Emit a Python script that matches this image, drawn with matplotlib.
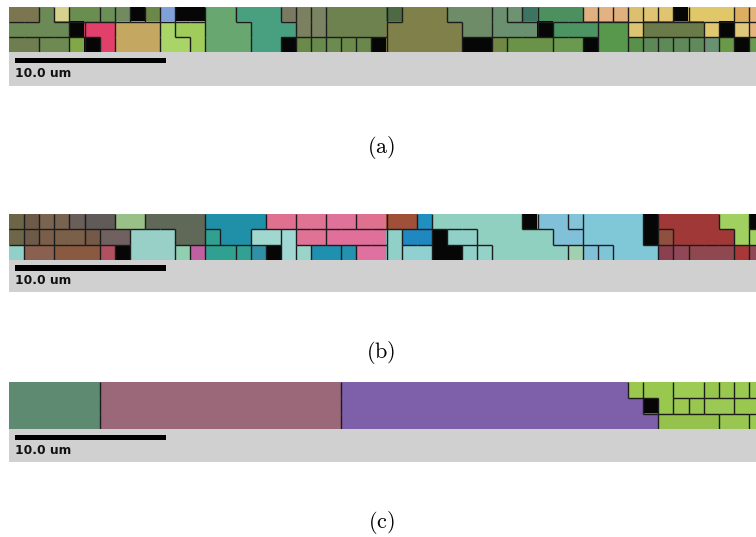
import matplotlib
matplotlib.use('Agg')
import matplotlib.pyplot as plt
import numpy as np
from matplotlib.collections import LineCollection
from matplotlib.colors import to_rgb

plt.rcParams['mathtext.fontset'] = 'cm'

# grain maps: one character per 1 um cell, 3 rows x 50 columns, 'K' = void
grains_a = [
    "aabcddefKghKKiijjjklmnnnnABBBCCCDEFGGGIJLMNOKPPPQR",
    "bbbbKoopppqrriiijjjlmnnnnBBBBBCCDDDKHHHSSTUUUUVKWX",
    "ssttuKopppqqriiijjKvwxyzKBBBBBKK677788KSSYZ01234K5",
]
colors_a = {
    'K': '#060606', 'a': '#7b7650', 'b': '#6b8a55', 'c': '#d6d28e', 'd': '#6a8e50',
    'e': '#6a9058', 'f': '#728a60', 'g': '#6c8848', 'h': '#80a0d8', 'i': '#68a870',
    'j': '#48a080', 'k': '#7a7a62', 'l': '#7a8060', 'm': '#7a8462', 'n': '#6e8250',
    'o': '#e0406a', 'p': '#c4a862', 'q': '#a8d468', 'r': '#a0cc5c', 's': '#6e7e50',
    't': '#6e8a52', 'u': '#80a848', 'v': '#6a8a4a', 'w': '#688a4c', 'x': '#6a8c4e',
    'y': '#6c8a4a', 'z': '#6a884c', 'A': '#4e6a44', 'B': '#80804a', 'C': '#6e8c68',
    'D': '#6a9070', 'E': '#6e9272', 'F': '#3c7460', 'G': '#4c9060', 'H': '#4c9462',
    'I': '#e0b080', 'J': '#e2b282', 'L': '#e0b07e', 'M': '#dcc070', 'N': '#e0c474',
    'O': '#e0c470', 'P': '#e0c868', 'Q': '#dcae60', 'R': '#e4b47a', 'S': '#58984c',
    'T': '#dcc470', 'U': '#6a7a48', 'V': '#e0c870', 'W': '#e0c878', 'X': '#e4b47c',
    'Y': '#58904c', 'Z': '#5e8858', '0': '#5e8a58', '1': '#608858', '2': '#608a5a',
    '3': '#6a9272', '4': '#6a9a48', '5': '#6a9a50', '6': '#708844', '7': '#6a9248',
    '8': '#6a9a50',
}

grains_b = [
    "abcdeffgghhhhiiiijjkkllmmnnoppppppKqqrssssKttttuuK",
    "vwxyyzAABBBhhCiiDDEFFGGGGHIIKJJpppppqqssssK#ttttu$",
    "MNNOOOPKBBBQRSSTUKEVWWXYYHZZKK01ppppp234sss5677789",
]
colors_b = {
    'K': '#060606', 'a': '#6e6448', 'b': '#6e5a48', 'c': '#7a6450', 'd': '#786250',
    'e': '#6a5e58', 'f': '#605a58', 'g': '#98c088', 'h': '#606858', 'i': '#2090a8',
    'j': '#e07090', 'k': '#e07294', 'l': '#e0729a', 'm': '#e07090', 'n': '#a05038',
    'o': '#2090c0', 'p': '#90d0c0', 'q': '#80c0d8', 'r': '#84c4d8', 's': '#80c8d8',
    't': '#a03838', 'u': '#a0d060', 'v': '#6e6648', 'w': '#6e5a48', 'x': '#7a5e4a',
    'y': '#7a6048', 'z': '#745848', 'A': '#706060', 'B': '#98d0c8', 'C': '#30a090',
    'D': '#a0d8d0', 'E': '#a0d8d4', 'F': '#e07296', 'G': '#e0709a', 'H': '#90d0c8',
    'I': '#2088c0', 'J': '#90d0c8', 'M': '#90d0c8', 'N': '#8a6050', 'O': '#8a5a40',
    'P': '#b05060', 'Q': '#90d0b0', 'R': '#c060a0', 'S': '#30a090', 'T': '#32a092',
    'U': '#3090a8', 'V': '#98d4c8', 'W': '#2090b0', 'X': '#2292b0', 'Y': '#e070a0',
    'Z': '#90d0d0', '0': '#90d0c8', '1': '#92d2c8', '2': '#a0d0b0', '3': '#80c0d8',
    '4': '#80c4d8', '5': '#8a4050', '6': '#904858', '7': '#904850', '8': '#a83838',
    '9': '#904858', '#': '#905040', '$': '#a0d060',
}

grains_c = [
    "aaaaaabbbbbbbbbbbbbbbbcccccccccccccccccccdeeffghij",
    "aaaaaabbbbbbbbbbbbbbbbccccccccccccccccccccKeklmmnn",
    "aaaaaabbbbbbbbbbbbbbbbcccccccccccccccccccccooooppq",
]
colors_c = {
    'K': '#060606', 'a': '#5f8a72', 'b': '#9a6878', 'c': '#7e60aa', 'd': '#9cc850',
    'e': '#98c84e', 'f': '#9ccc54', 'g': '#96c64e', 'h': '#98c850', 'i': '#9aca52',
    'j': '#98c850', 'k': '#9cc852', 'l': '#98c64e', 'm': '#9aca54', 'n': '#98c850',
    'o': '#94c24c', 'p': '#98c650', 'q': '#9aca52',
}

labels = ['(a)', '(b)', '(c)']
scale_um = 10.0
visible_um = 49.47

# pixel layout of each panel: tile top, tile bottom / band top, band bottom, caption y
W, H = 756, 537
layout = [(6.7, 52.3, 86.0, 147.5), (214.0, 260.0, 292.3, 352.5), (382.3, 429.3, 461.7, 523.0)]


def draw_grains(ax, rows, colors):
    ids = np.array([list(r) for r in rows])
    img = np.array([[to_rgb(colors[c]) for c in r] for r in rows])
    nr, nc = ids.shape
    ax.imshow(img, extent=(0, nc, nr, 0), interpolation='nearest', aspect='auto')
    segs = []
    for i in range(nr):
        for j in range(nc):
            if j + 1 < nc and ids[i, j] != ids[i, j + 1]:
                segs.append([(j + 1, i), (j + 1, i + 1)])
            if i + 1 < nr and ids[i, j] != ids[i + 1, j]:
                segs.append([(j, i + 1), (j + 1, i + 1)])
    ax.add_collection(LineCollection(segs, colors='#1c1c1c', linewidths=1.0))
    ax.set_xlim(0, visible_um)
    ax.set_ylim(nr, 0)
    ax.axis('off')


fig = plt.figure(figsize=(W / 100, H / 100), dpi=100)
x0 = 9 / W
w = (W - 9) / W
for (top, mid, bot, cap), rows, cols, lab in zip(layout, [grains_a, grains_b, grains_c],
                                                 [colors_a, colors_b, colors_c], labels):
    ax = fig.add_axes([x0, 1 - mid / H, w, (mid - top) / H])
    draw_grains(ax, rows, cols)

    band = fig.add_axes([x0, 1 - bot / H, w, (bot - mid) / H])
    band.set_facecolor('#d0d0d0')
    band.set_xlim(0, visible_um)
    band.set_ylim(0, 1)
    band.set_xticks([])
    band.set_yticks([])
    for s in band.spines.values():
        s.set_visible(False)
    band.fill_between([0.4, 0.4 + scale_um], 0.67, 0.83, color='black', lw=0)
    band.text(0.4, 0.36, f'{scale_um:.1f} um', fontsize=8.8, fontweight='bold',
              ha='left', va='center', color='#111111')

    fig.text(381 / W, 1 - cap / H, r'$\mathrm{' + lab + '}$', fontsize=16,
             ha='center', va='center')

fig.savefig('out.png', dpi=100)
